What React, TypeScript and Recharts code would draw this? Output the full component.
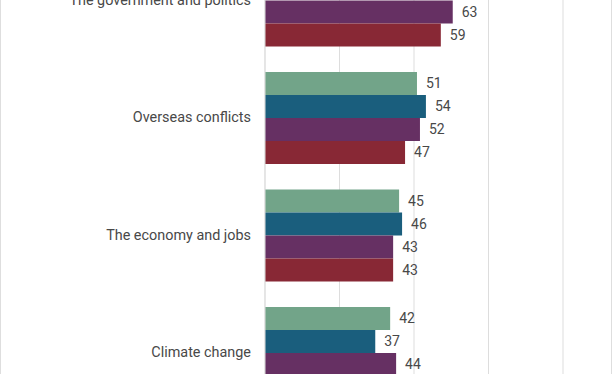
import { BarChart, Bar, XAxis, YAxis, CartesianGrid, LabelList } from 'recharts'

const CATEGORIES = [
  'The government and politics',
  'Overseas conflicts',
  'The economy and jobs',
  'Climate change',
]

// top rows of the first group and last row of the last group fall outside the view
const SERIES_A: (number | null)[] = [null, 51, 45, 42]
const SERIES_B: (number | null)[] = [null, 54, 46, 37]
const SERIES_C: (number | null)[] = [63, 52, 43, 44]
const SERIES_D: (number | null)[] = [59, 47, 43, null]

const X_TICKS = [0, 25, 50, 75, 100]

const SERIES = [
  { key: 'a', color: '#72a489' },
  { key: 'b', color: '#1a5e7d' },
  { key: 'c', color: '#663063' },
  { key: 'd', color: '#882835' },
]

const data = CATEGORIES.map((name, i) => ({
  name,
  a: SERIES_A[i],
  b: SERIES_B[i],
  c: SERIES_C[i],
  d: SERIES_D[i],
}))

export default function App() {
  return (
    <div
      style={{
        position: 'fixed',
        top: 0,
        left: 0,
        width: 612,
        height: 374,
        overflow: 'hidden',
        background: '#fff',
        boxSizing: 'border-box',
        borderLeft: '1px solid #dedede',
        borderRight: '1px solid #dedede',
        fontFamily: 'Roboto, sans-serif',
      }}
    >
      <div style={{ position: 'absolute', top: -59, left: -1 }}>
        <BarChart
          width={612}
          height={470}
          data={data}
          layout="vertical"
          margin={{ top: 0, right: 49, bottom: 0, left: 0 }}
          barCategoryGap="11.4%"
          barGap={0}
        >
          <CartesianGrid horizontal={false} stroke="#dddddd" />
          <XAxis type="number" domain={[0, 100]} ticks={X_TICKS} hide />
          <YAxis
            type="category"
            dataKey="name"
            width={265}
            axisLine={{ stroke: '#dddddd' }}
            tickLine={false}
            tickSize={0}
            tickMargin={14}
            tick={{ fill: '#484848', fontSize: 14.4 }}
          />
          {SERIES.map((s) => (
            <Bar key={s.key} dataKey={s.key} fill={s.color} isAnimationActive={false}>
              <LabelList dataKey={s.key} position="right" offset={9} fill="#484848" fontSize={14} />
            </Bar>
          ))}
        </BarChart>
      </div>
    </div>
  )
}
